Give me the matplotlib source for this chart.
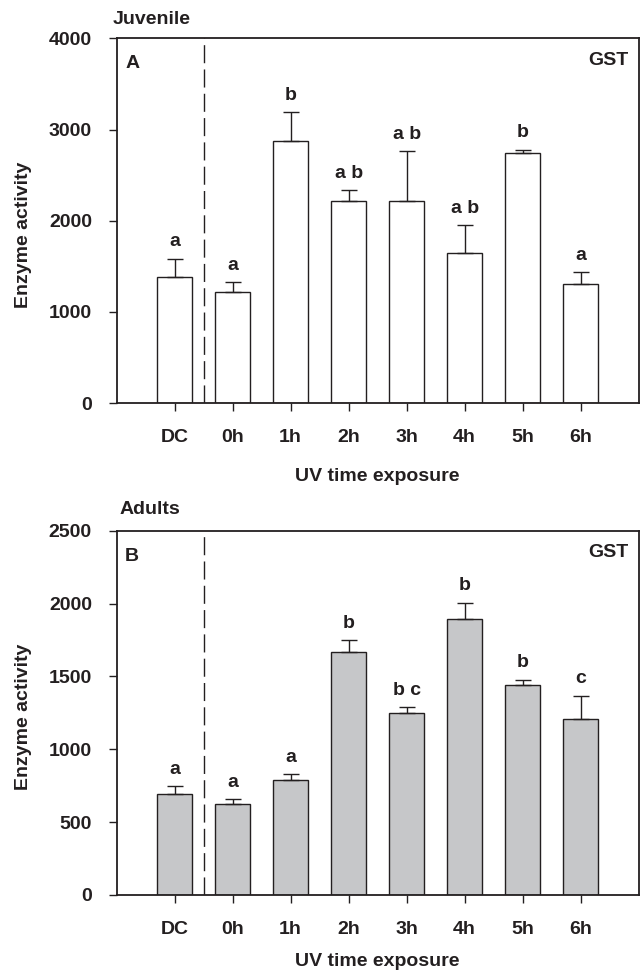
import matplotlib.pyplot as plt
import numpy as np

plt.rcParams['font.family'] = ['Liberation Sans', 'DejaVu Sans']
plt.rcParams['font.weight'] = 'bold'
plt.rcParams['axes.labelweight'] = 'bold'

groups = ['DC', '0h', '1h', '2h', '3h', '4h', '5h', '6h']

juv_mean = [1377, 1220, 2879, 2217, 2217, 1648, 2740, 1300]
juv_err = [205, 106, 310, 114, 548, 303, 40, 136]
juv_letters = ['a', 'a', 'b', 'a b', 'a b', 'a b', 'b', 'a']

adu_mean = [695, 627, 791, 1670, 1247, 1894, 1443, 1205]
adu_err = [53, 32, 37, 80, 43, 112, 35, 163]
adu_letters = ['a', 'a', 'a', 'b', 'b c', 'b', 'b', 'c']

txt = '#231f20'


def panel(ax, means, errs, letters, fill, ymax, step, tag):
    x = np.arange(len(groups))
    ax.bar(x, means, width=0.6, color=fill, edgecolor=txt, linewidth=1.0, zorder=2)
    ax.errorbar(x, means, yerr=[np.zeros(len(errs)), errs], fmt='none',
                ecolor=txt, elinewidth=1.0, capsize=5.8, capthick=1.0, zorder=3)
    for xi, m, e, lab in zip(x, means, errs, letters):
        ax.annotate(lab, (xi, m + e), xytext=(0, 6), textcoords='offset points',
                    ha='center', va='bottom', fontsize=14, color=txt)
    # separator between control and exposure groups
    ax.axvline(0.5, color=txt, linewidth=1.0, dashes=(13, 4.5), zorder=1)
    ax.set_xlim(-1, 8)
    ax.set_ylim(0, ymax)
    ax.set_xticks(x)
    ax.set_xticklabels(groups)
    ax.set_yticks(np.arange(0, ymax + 1, step))
    ax.tick_params(axis='both', direction='out', length=5.8, width=1.0,
                   labelsize=14, colors=txt)
    ax.tick_params(axis='x', pad=13)
    ax.tick_params(axis='y', pad=12)
    for s in ax.spines.values():
        s.set_linewidth(1.3)
        s.set_color(txt)
    ax.set_ylabel('Enzyme activity', fontsize=14, color=txt)
    ax.set_xlabel('UV time exposure', fontsize=14, color=txt)
    ax.text(0.016, 0.93, tag, transform=ax.transAxes, ha='left', va='center',
            fontsize=14, color=txt)
    ax.text(0.98, 0.94, 'GST', transform=ax.transAxes, ha='right', va='center',
            fontsize=14, color=txt)


fig = plt.figure(figsize=(6.42, 9.73), dpi=100)
ax1 = fig.add_axes([0.1818, 0.5858, 0.8128, 0.3748])
ax2 = fig.add_axes([0.1818, 0.0802, 0.8128, 0.3744])

panel(ax1, juv_mean, juv_err, juv_letters, 'white', 4000, 1000, 'A')
panel(ax2, adu_mean, adu_err, adu_letters, '#c6c7c9', 2500, 500, 'B')

ax1.xaxis.set_label_coords(0.5, -0.178)
ax2.xaxis.set_label_coords(0.5, -0.159)
ax1.yaxis.set_label_coords(-0.163, 0.46)
ax2.yaxis.set_label_coords(-0.163, 0.49)

fig.text(113 / 642, 1 - 19 / 973, 'Juvenile', ha='left', va='center', fontsize=14, color=txt)
fig.text(120 / 642, 1 - 510 / 973, 'Adults', ha='left', va='center', fontsize=14, color=txt)

fig.savefig('out.png', dpi=100)
